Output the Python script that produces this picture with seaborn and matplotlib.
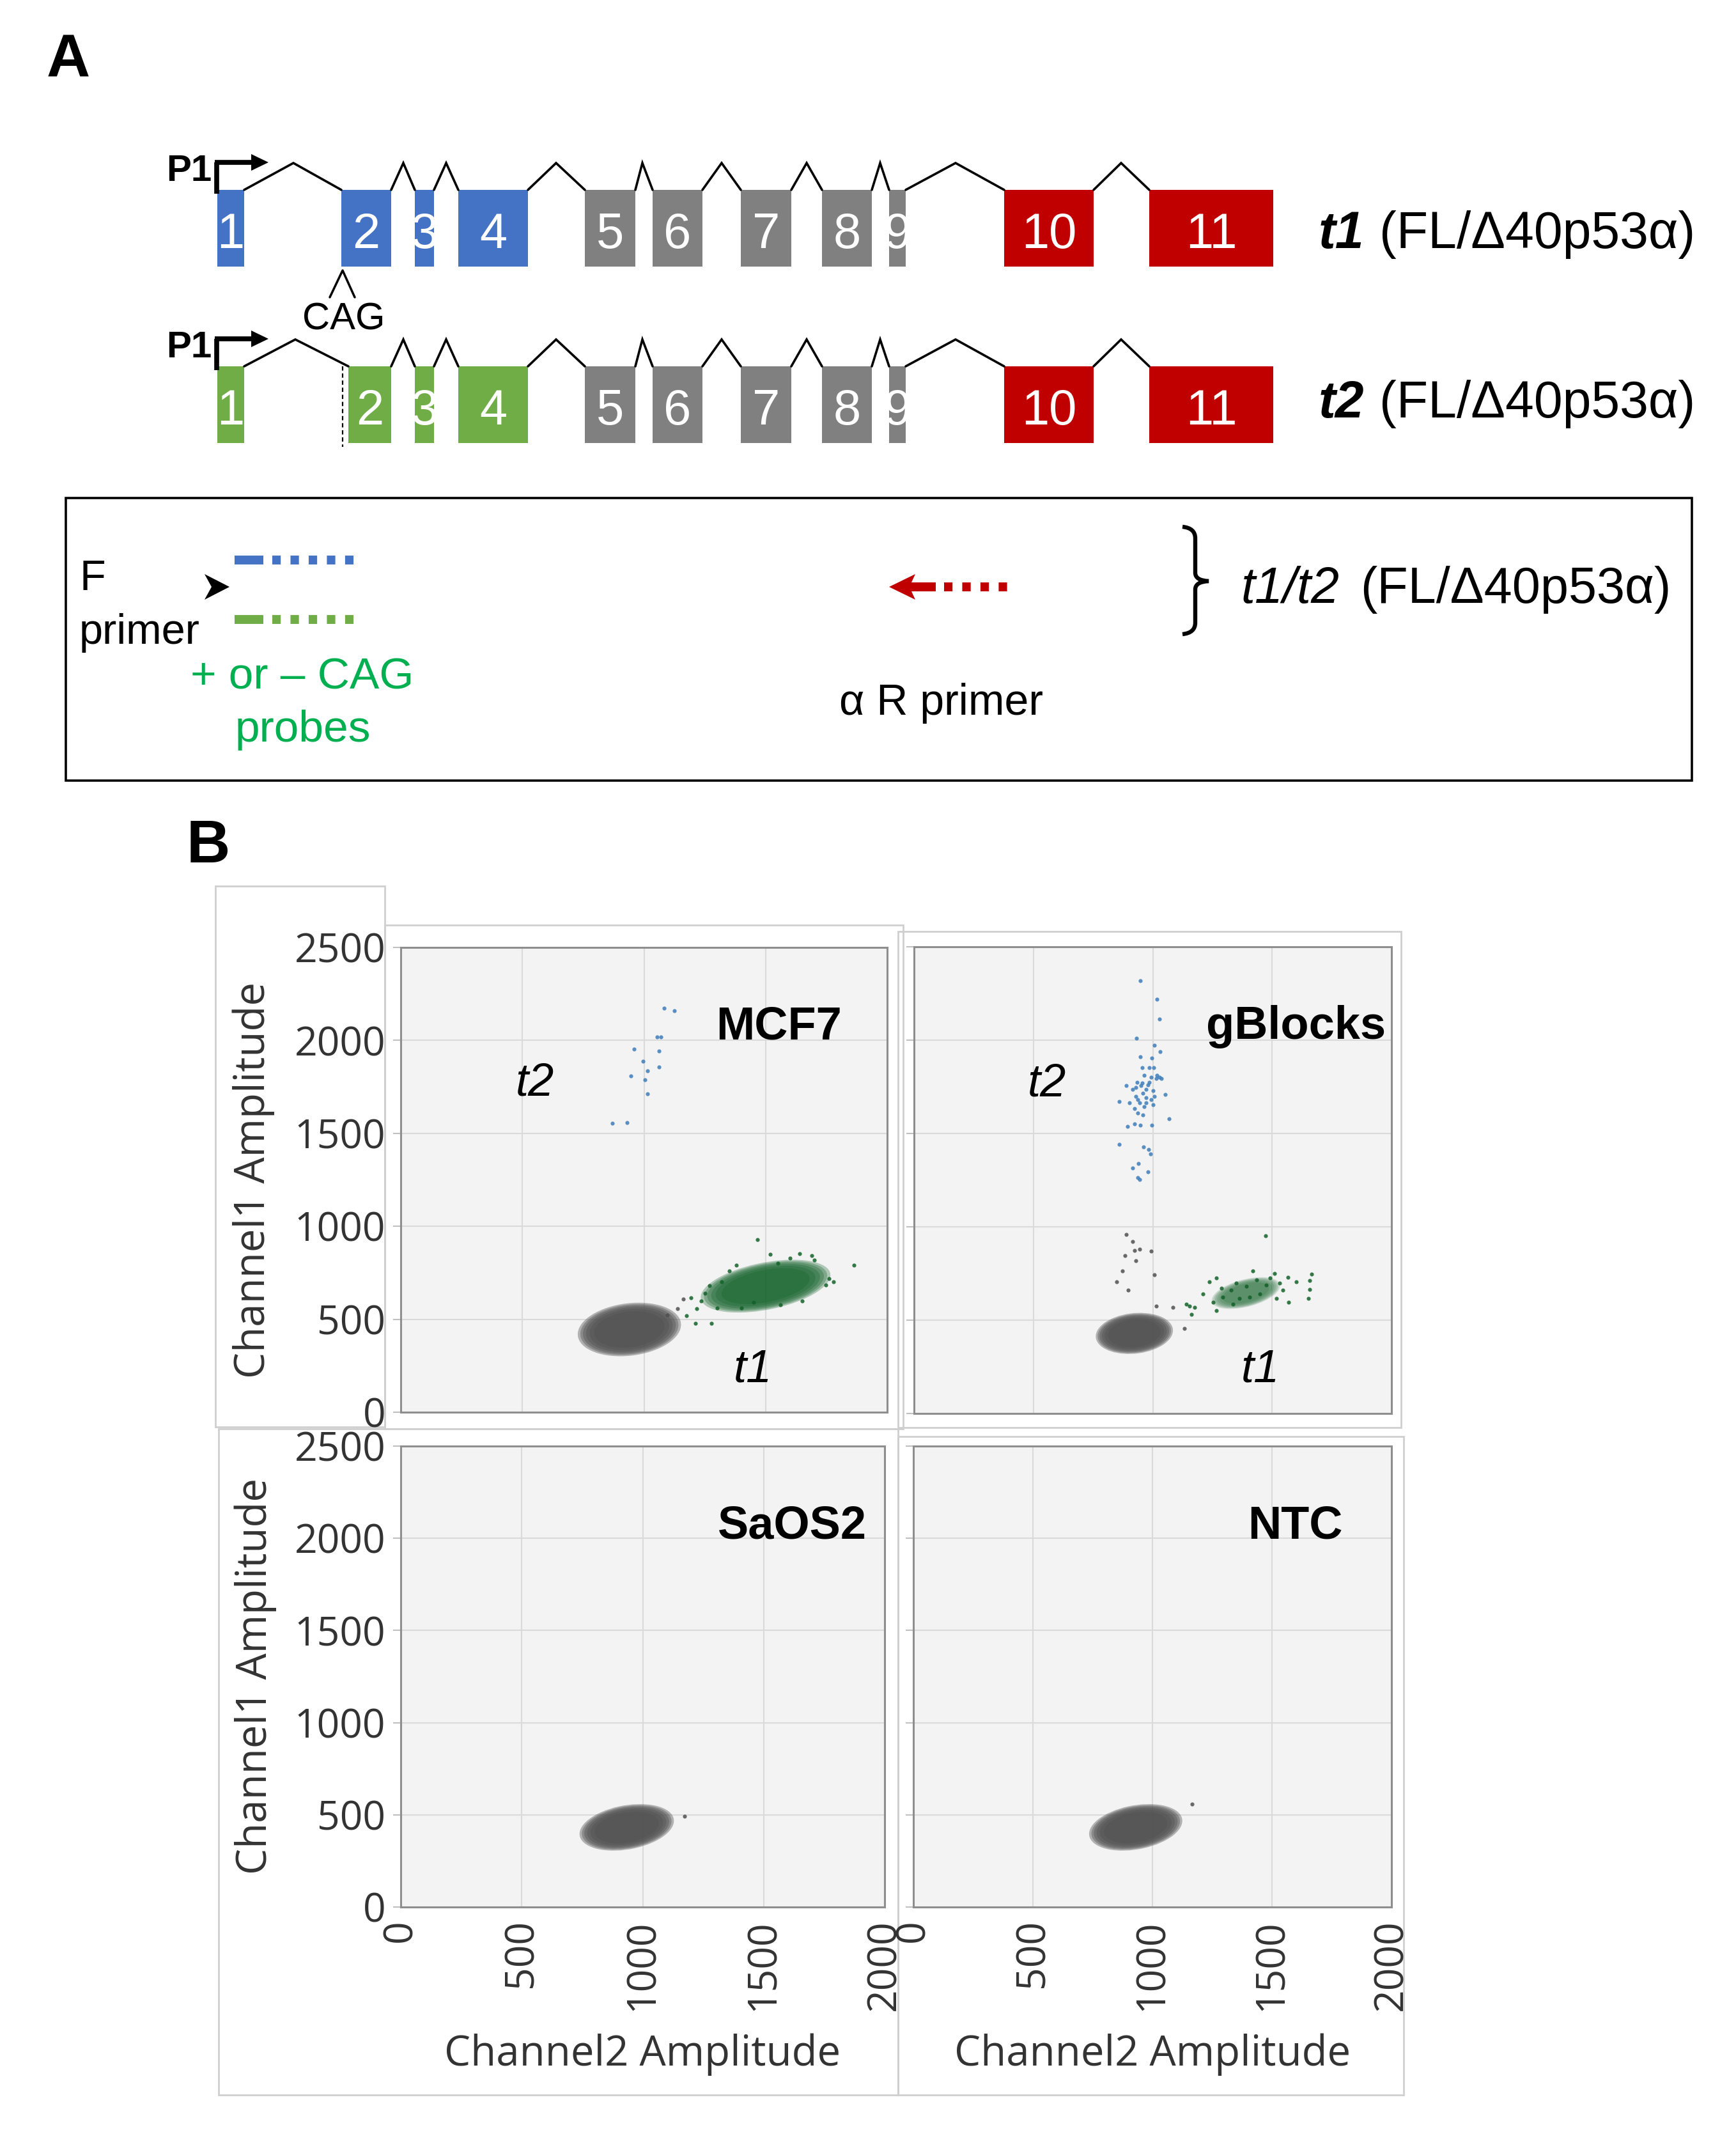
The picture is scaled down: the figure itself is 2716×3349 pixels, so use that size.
import numpy as np
import pandas as pd
import matplotlib
matplotlib.use("Agg")
import matplotlib.pyplot as plt
import seaborn as sns
from matplotlib.patches import Rectangle, Polygon, Ellipse, PathPatch
from matplotlib.path import Path
from matplotlib import font_manager

W, H, DPI = 2716, 3349, 100

# ---------------- Panel A: gene model (diagram units) ----------------
exon_labels = ['1', '2', '3', '4', '5', '6', '7', '8', '9', '10', '11']
t1_exon_start = [340, 534, 649, 717, 915, 1021, 1159, 1286, 1391, 1571, 1798]
t1_exon_end = [382, 612, 679, 826, 994, 1099, 1238, 1364, 1417, 1711, 1992]
t2_exon_start = [340, 545, 649, 717, 915, 1021, 1159, 1286, 1391, 1571, 1798]
t2_exon_end = [382, 612, 679, 826, 994, 1099, 1238, 1364, 1417, 1711, 1992]
t1_exon_colors = ['#4472C4'] * 4 + ['#808080'] * 5 + ['#C00000'] * 2
t2_exon_colors = ['#70AD47'] * 4 + ['#808080'] * 5 + ['#C00000'] * 2
t1_intron_peak = [459, 631, 698, 870, 1005, 1129, 1262, 1377, 1495, 1754]
t2_intron_peak = [462, 631, 698, 870, 1005, 1129, 1262, 1377, 1495, 1754]
transcript_names = ['t1', 't2']
isoform_text = '(FL/Δ40p53α)'

# ---------------- Panel B: ddPCR droplet data ----------------
x_ticks = [0, 500, 1000, 1500, 2000]
y_ticks = [0, 500, 1000, 1500, 2000, 2500]
x_tick_labels = ['0', '500', '1000', '1500', '2000']
y_tick_labels = ['0', '500', '1000', '1500', '2000', '2500']
panels = ['MCF7', 'gBlocks', 'SaOS2', 'NTC']

# dense droplet clouds: centre, semi-axes, tilt (data units)
cloud_panel = ['MCF7', 'MCF7', 'gBlocks', 'gBlocks', 'SaOS2', 'NTC']
cloud_kind = ['neg', 't1', 'neg', 't1', 'neg', 'neg']
cloud_cx = [940, 1500, 923, 1390, 934, 930]
cloud_cy = [445, 678, 429, 645, 432, 432]
cloud_a = [215, 275, 163, 150, 200, 200]
cloud_b = [140, 125, 108, 72, 118, 118]
cloud_angle = [12, 16, 10, 20, 16, 16]

# individually visible droplets
mcf7_t2_x = [1083, 1124, 1055, 1070, 959, 1061, 996, 1063, 1015, 945, 1004, 1015, 871, 930]
mcf7_t2_y = [2173, 2159, 2018, 2018, 1952, 1942, 1887, 1856, 1837, 1808, 1787, 1712, 1555, 1558]
mcf7_t1_x = [1466, 1520, 1641, 1863, 1212, 1277, 1175, 1193, 1218, 1562, 1747, 1691,
             1250, 1235, 1300, 1320, 1270, 1350, 1400, 1450, 1600, 1700, 1760, 1780, 1650, 1550, 1380]
mcf7_t1_y = [928, 848, 854, 791, 479, 479, 518, 617, 558, 578, 686, 844,
             640, 600, 560, 700, 680, 760, 560, 590, 830, 820, 720, 700, 600, 800, 790]
mcf7_neg_x = [1138, 1162, 1097]
mcf7_neg_y = [558, 610, 521]

gb_t2_x = [947, 1018, 1028, 932, 1007, 1031, 947, 997, 986, 955, 1028, 934, 979, 888, 972, 1000,
           1053, 958, 930, 944, 1000, 860, 902, 923, 972, 937, 958, 1067, 923, 947, 995, 895,
           860, 962, 982, 990, 940, 916, 979, 937, 944, 965, 993, 1014, 930, 951, 986, 1007,
           937, 993, 965, 916, 1017, 972, 955, 1003, 1035]
gb_t2_y = [2319, 2220, 2112, 2009, 1973, 1938, 1910, 1905, 1854, 1854, 1802, 1775, 1760, 1758,
           1738, 1728, 1710, 1715, 1700, 1663, 1654, 1672, 1663, 1635, 1663, 1608, 1598, 1580,
           1552, 1546, 1546, 1537, 1441, 1428, 1413, 1389, 1338, 1316, 1294, 1264, 1255, 1812,
           1802, 1793, 1747, 1756, 1775, 1700, 1682, 1682, 1645, 1738, 1812, 1691, 1769, 1854, 1793]
gb_t1_x = [1472, 1418, 1511, 1565, 1665, 1658, 1656, 1651, 1570, 1602, 1238, 1266, 1287, 1210,
           1154, 1140, 1175, 1161, 1266, 1252, 1336, 1518, 1546, 1476, 1434, 1350, 1329, 1406,
           1449, 1294, 1532, 1490, 1392, 1364]
gb_t1_y = [952, 763, 750, 731, 748, 713, 665, 615, 596, 707, 707, 726, 670, 642, 577, 587, 568,
           531, 550, 596, 587, 615, 661, 689, 717, 698, 661, 624, 642, 624, 698, 726, 680, 615]
gb_neg_x = [888, 916, 944, 993, 884, 930, 874, 1007, 850, 898, 923, 1014, 1084, 1133]
gb_neg_y = [958, 921, 880, 871, 846, 819, 763, 744, 707, 661, 874, 577, 568, 457]
saos2_neg_x = [1174]
saos2_neg_y = [492]
ntc_neg_x = [1166]
ntc_neg_y = [557]

# ---------------- style ----------------
sns.set_style('white')
plt.rcParams['font.family'] = ['Liberation Sans', 'DejaVu Sans']
plt.rcParams['text.color'] = 'black'
installed = {f.name for f in font_manager.fontManager.ttflist}
NARROW = 'Liberation Sans Narrow' if 'Liberation Sans Narrow' in installed else 'Liberation Sans'
UI = 'Open Sans' if 'Open Sans' in installed else 'DejaVu Sans'

C_NEG, C_T1, C_T2 = '#505050', '#13622A', '#3D7DBA'

fig = plt.figure(figsize=(W / DPI, H / DPI), dpi=DPI)
ov = fig.add_axes([0, 0, 1, 1], zorder=0)
ov.set_xlim(0, W)
ov.set_ylim(H, 0)
ov.set_axis_off()

# panel letters
ov.text(73, 120, 'A', fontsize=68, weight='bold', va='baseline', color='black')
ov.text(292, 1349, 'B', fontsize=68, weight='bold', va='baseline', color='black')

# gene models
row_top = [297, 573]
exon_h = 120
peak_rise = 42
digit_off = 91
label_base = [388, 653]
rows = [(t1_exon_start, t1_exon_end, t1_exon_colors, t1_intron_peak),
        (t2_exon_start, t2_exon_end, t2_exon_colors, t2_intron_peak)]
for r, (starts, ends, cols, peaks) in enumerate(rows):
    top = row_top[r]
    for s, e, c, lab in zip(starts, ends, cols, exon_labels):
        ov.add_patch(Rectangle((s, top), e - s, exon_h, facecolor=c, edgecolor='none', zorder=2))
        ov.text((s + e) / 2, top + digit_off, lab, color='white', ha='center', va='baseline',
                fontsize=56, family=[NARROW, 'Liberation Sans'], zorder=3)
    for i, pk in enumerate(peaks):
        ov.plot([ends[i], pk, starts[i + 1]], [top, top - peak_rise, top], color='black',
                lw=2.6, zorder=2, solid_joinstyle='miter')
    # P1 promoter arrow
    ov.text(260, top - 14, 'P1', fontsize=42, weight='bold', va='baseline')
    ov.plot([339, 339], [top + 6, top - 43], color='black', lw=5.5, solid_capstyle='butt', zorder=3)
    ov.plot([336, 395], [top - 43, top - 43], color='black', lw=5.5, solid_capstyle='butt', zorder=3)
    ov.add_patch(Polygon([[393, top - 56], [420, top - 43], [393, top - 30]], closed=True,
                         facecolor='black', edgecolor='none', zorder=3))
    # transcript label
    ov.text(2063, label_base[r], transcript_names[r], fontsize=58, weight='bold',
            style='italic', va='baseline')
    ov.text(2158, label_base[r], isoform_text, fontsize=58, va='baseline')

# CAG insertion mark
ov.plot([516, 536, 555], [465, 423, 465], color='black', lw=2.5)
ov.text(538, 515, 'CAG', fontsize=43, ha='center', va='baseline')
ov.plot([536, 536], [573, 699], color='black', lw=1.6, ls=(0, (3, 2)))

# primer/probe box
ov.add_patch(Rectangle((103, 779), 2544, 442, fill=False, edgecolor='black', lw=2.6))
ov.text(124, 923, 'F', fontsize=48, va='baseline')
ov.text(124, 1007, 'primer', fontsize=48, va='baseline')
ov.add_patch(Polygon([[320, 898], [359, 918], [320, 938], [331, 918]], closed=True,
                     facecolor='black', edgecolor='none'))
for yy, col in [(876, '#4472C4'), (969, '#70AD47')]:
    ov.plot([367, 412], [yy, yy], color=col, lw=10, solid_capstyle='butt')
    ov.plot([426, 556], [yy, yy], color=col, lw=10, ls=(0, (0.95, 1.1)), dash_capstyle='butt')
ov.text(298, 1078, '+ or – CAG', fontsize=50, color='#00B050', va='baseline')
ov.text(368, 1160, 'probes', fontsize=50, color='#00B050', va='baseline')
ov.add_patch(Polygon([[1391, 918], [1432, 898], [1426, 911], [1464, 911], [1464, 925],
                      [1426, 925], [1432, 938]], closed=True, facecolor='#C00000', edgecolor='none'))
ov.plot([1477, 1584], [918, 918], color='#C00000', lw=10, ls=(0, (0.95, 1.1)), dash_capstyle='butt')
ov.text(1313, 1118, 'α R primer', fontsize=49, va='baseline')
brace = Path([(1850, 824), (1870, 826), (1870, 842), (1870, 896), (1870, 908), (1891, 909),
              (1870, 910), (1870, 922), (1870, 974), (1870, 990), (1850, 992)],
             [Path.MOVETO, Path.CURVE3, Path.CURVE3, Path.LINETO, Path.CURVE3, Path.CURVE3,
              Path.CURVE3, Path.CURVE3, Path.LINETO, Path.CURVE3, Path.CURVE3])
ov.add_patch(PathPatch(brace, fill=False, edgecolor='black', lw=4.6))
ov.text(1941, 943, 't1/t2', fontsize=57, style='italic', va='baseline')
ov.text(2128, 943, isoform_text, fontsize=57, va='baseline')

# screenshot frames around the ddPCR plots
frames = [(337, 1386, 602, 2232), (602, 1447, 1413, 2235), (1405, 1457, 2192, 2233),
          (342, 2235, 1405, 3277), (1405, 2247, 2196, 3277)]
for x0, y0, x1, y1 in frames:
    ov.add_patch(Rectangle((x0, y0), x1 - x0, y1 - y0, fill=False, edgecolor='#CFCFCF', lw=2.0))

# ---------------- Panel B axes ----------------
ax_box = {'MCF7': (627, 1482, 1388, 2209), 'gBlocks': (1430, 1481, 2177, 2211),
          'SaOS2': (627, 2262, 1384, 2983), 'NTC': (1429, 2262, 2177, 2983)}
title_pos = {'MCF7': (1813, 2007), 'gBlocks': (1976, 2007), 'SaOS2': (1926, 1998), 'NTC': (1797, 1998)}
tlabel_pos = {'MCF7': [(473, 1705, 't2'), (1369, 162, 't1')],
              'gBlocks': [(475, 1702, 't2'), (1371, 170, 't1')]}
points = {'MCF7': [(mcf7_neg_x, mcf7_neg_y, C_NEG), (mcf7_t1_x, mcf7_t1_y, C_T1), (mcf7_t2_x, mcf7_t2_y, C_T2)],
          'gBlocks': [(gb_neg_x, gb_neg_y, C_NEG), (gb_t1_x, gb_t1_y, C_T1), (gb_t2_x, gb_t2_y, C_T2)],
          'SaOS2': [(saos2_neg_x, saos2_neg_y, C_NEG)],
          'NTC': [(ntc_neg_x, ntc_neg_y, C_NEG)]}
clouds = pd.DataFrame({'panel': cloud_panel, 'kind': cloud_kind, 'cx': cloud_cx, 'cy': cloud_cy,
                       'a': cloud_a, 'b': cloud_b, 'angle': cloud_angle})
layer_scale = [1.0, 0.95, 0.9, 0.84, 0.77, 0.68]

for name in panels:
    x0, y0, x1, y1 = ax_box[name]
    ax = fig.add_axes([x0 / W, 1 - y1 / H, (x1 - x0) / W, (y1 - y0) / H], zorder=2)
    ax.set_facecolor('#F3F3F3')
    ax.set_xlim(0, 2000)
    ax.set_ylim(0, 2500)
    ax.set_xticks(x_ticks)
    ax.set_yticks(y_ticks)
    ax.grid(True, color='#DADADA', lw=1.5)
    ax.set_axisbelow(True)
    for sp in ax.spines.values():
        sp.set_visible(True)
        sp.set_color('#8E8E8E')
        sp.set_linewidth(2.2)
    left = name in ('MCF7', 'SaOS2')
    bottom = name in ('SaOS2', 'NTC')
    ax.tick_params(axis='y', length=9, width=1.5, color='#C0C0C0', pad=8, left=True,
                   labelleft=left, labelsize=45, labelcolor='#333333')
    ax.tick_params(axis='x', length=0, pad=14, bottom=True, labelbottom=bottom,
                   labelsize=45, labelcolor='#333333', labelrotation=90)

    # droplet clouds, layered for a soft speckled edge
    for _, c in clouds[clouds.panel == name].iterrows():
        col = C_NEG if c.kind == 'neg' else C_T1
        alpha = 0.40 if c.kind == 'neg' else (0.30 if name == 'MCF7' else 0.17)
        for sc in layer_scale:
            ax.add_patch(Ellipse((c.cx, c.cy), 2 * c.a * sc, 2 * c.b * sc, angle=c.angle,
                                 facecolor=col, edgecolor='none', alpha=alpha, zorder=4))
    for xs, ys, col in points[name]:
        df = pd.DataFrame({'x': xs, 'y': ys})
        sns.scatterplot(data=df, x='x', y='y', ax=ax, color=col, s=20, linewidth=0,
                        alpha=0.85, zorder=3 if col != C_T2 else 5, legend=False)
    ax.set_xlabel('')
    ax.set_ylabel('')
    if left:
        ax.set_yticklabels(y_tick_labels, family=UI)
        ax.set_ylabel('Channel1 Amplitude', family=UI, fontsize=47, color='#333333', va='center')
        ax.yaxis.set_label_coords(-0.303 if name == 'MCF7' else -0.300, 0.5)
    if bottom:
        ax.set_xticklabels(x_tick_labels, family=UI)
        ax.set_xlabel('Channel2 Amplitude', family=UI, fontsize=47, color='#333333', va='center')
        ax.xaxis.set_label_coords(0.5, -0.320)

    tx, ty = title_pos[name]
    ax.text(tx, ty, name, fontsize=52, weight='bold', ha='right', va='baseline', color='black', zorder=6)
    for lx, ly, lab in tlabel_pos.get(name, []):
        ax.text(lx, ly, lab, fontsize=52, style='italic', ha='left', va='baseline', color='black', zorder=6)

fig.savefig('out.png', dpi=DPI)
